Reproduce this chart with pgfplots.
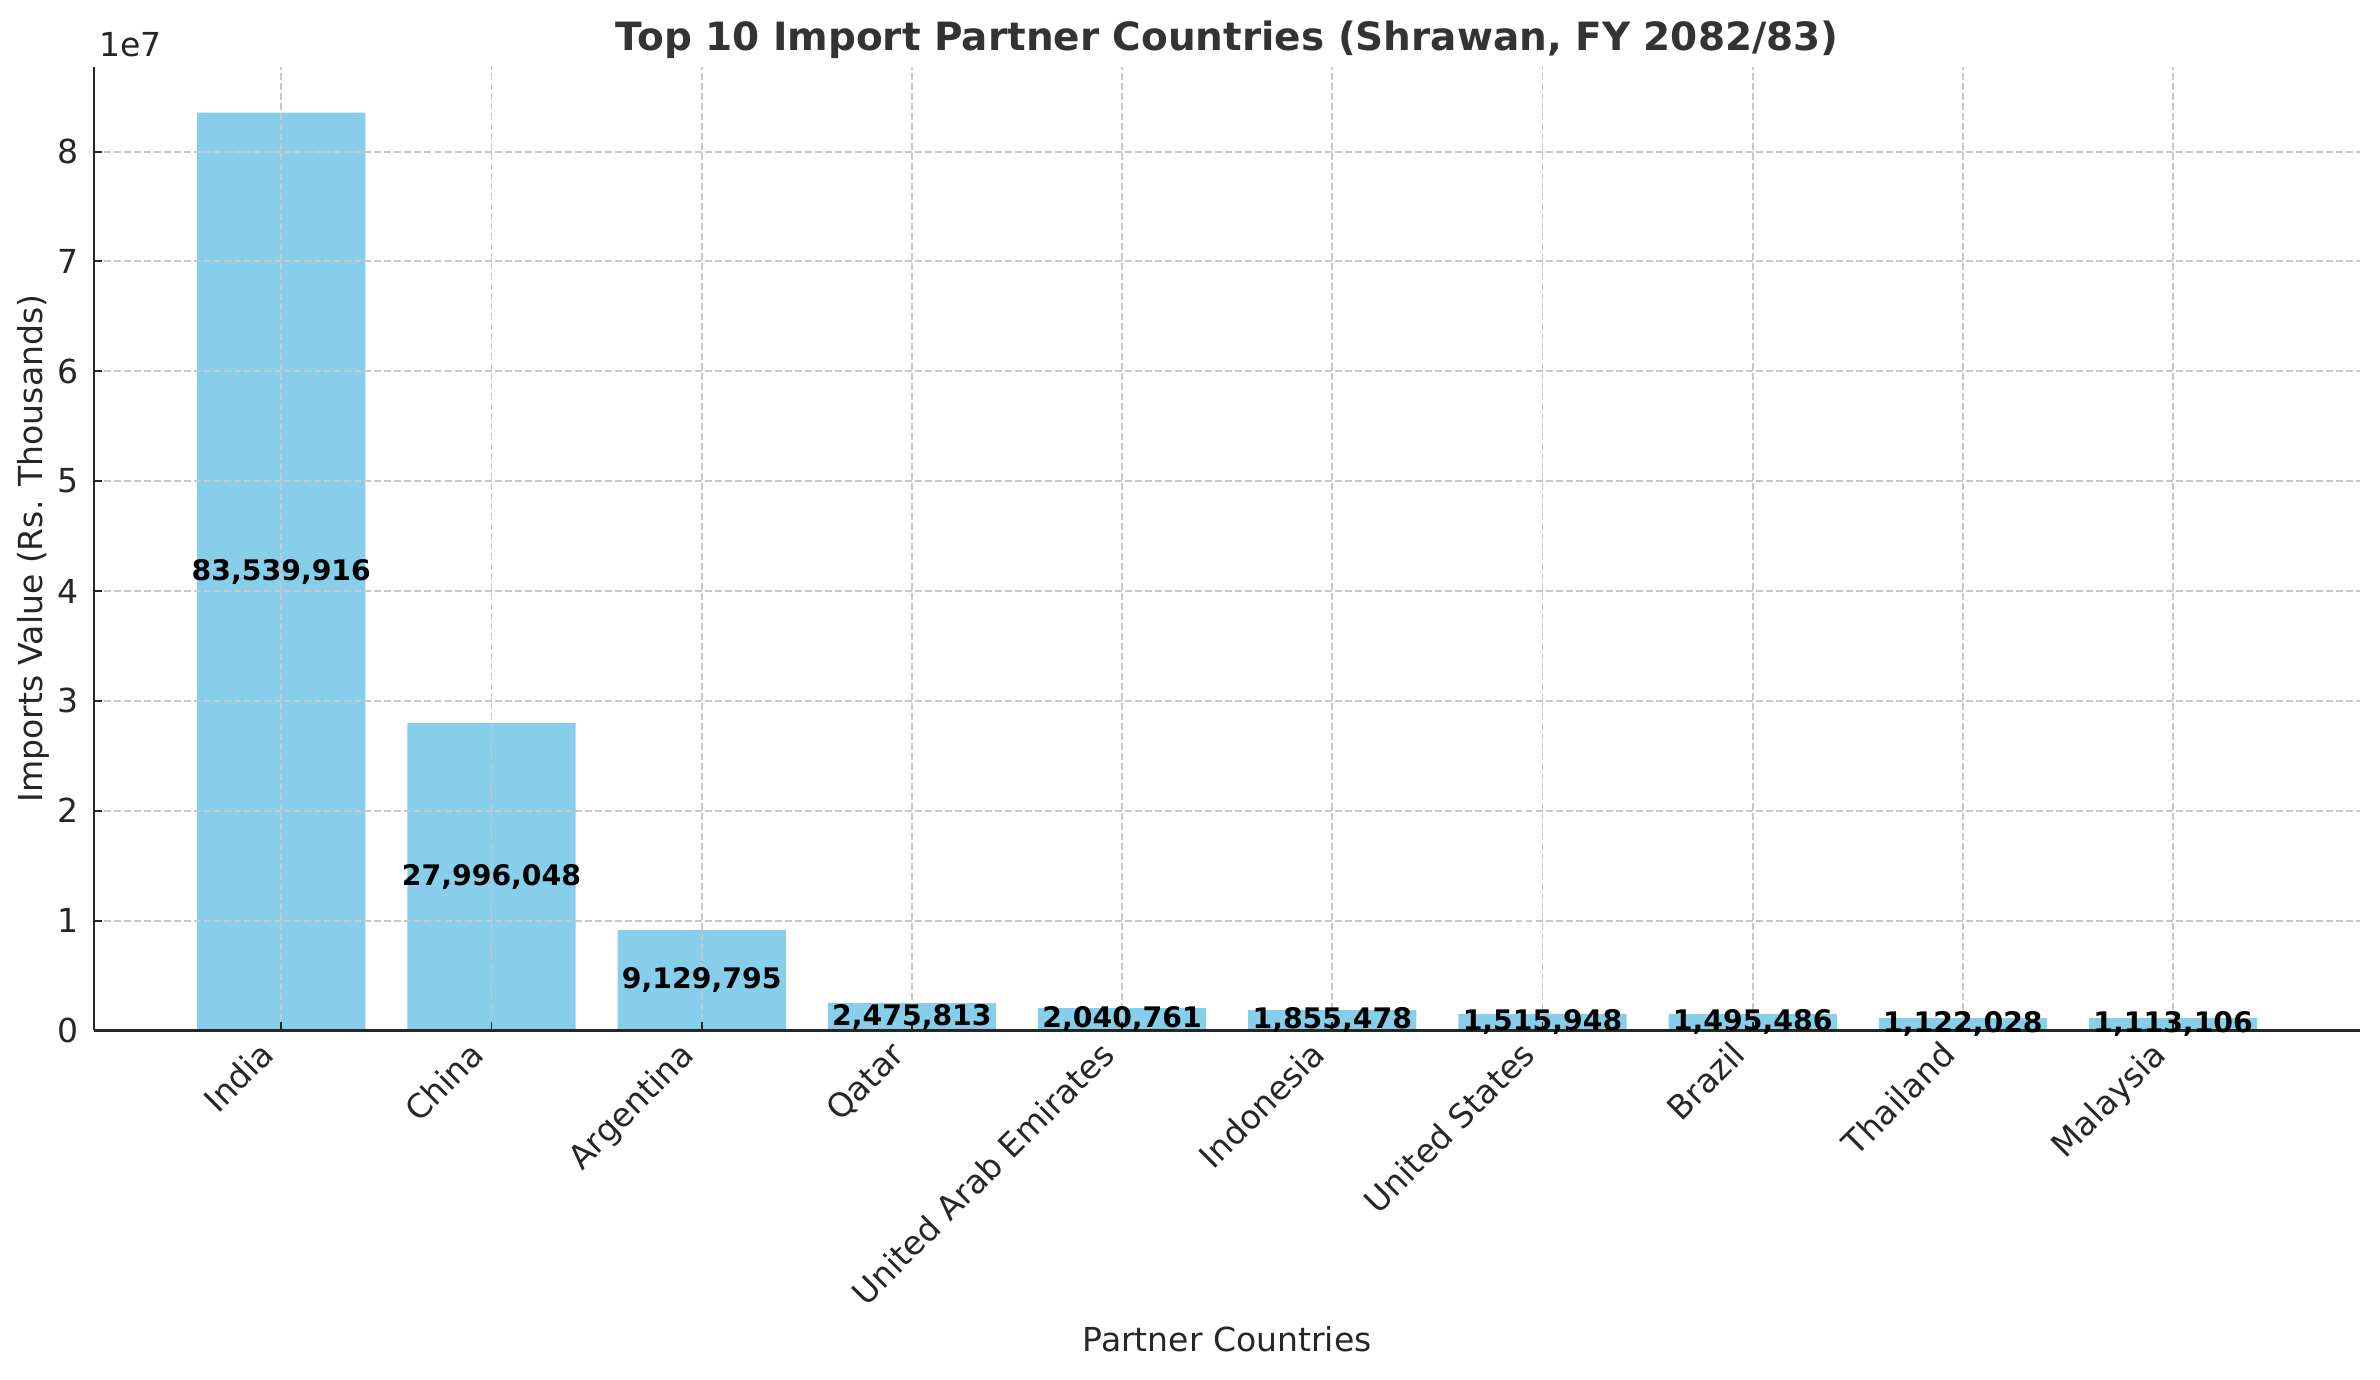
\documentclass[border=0pt]{standalone}
\usepackage{fontspec}
\setmainfont{DejaVu Sans}
\usepackage{pgfplots}
\usepackage{pgfplotstable}
\pgfplotsset{compat=1.18}
\definecolor{skyblue}{HTML}{87CEEB}
\definecolor{gridc}{HTML}{C8C8C8}
\definecolor{titlec}{HTML}{333333}
\definecolor{axc}{HTML}{262626}
\pgfplotstableread{
x v lab
0 83539916 83,539,916
1 27996048 27,996,048
2 9129795 9,129,795
3 2475813 2,475,813
4 2040761 2,040,761
5 1855478 1,855,478
6 1515948 1,515,948
7 1495486 1,495,486
8 1122028 1,122,028
9 1113106 1,113,106
}\imports
\begin{document}
\begin{tikzpicture}
\begin{axis}[
  set layers,
  scale only axis,
  width=959.9pt, height=408.2pt,
  xmin=-0.89, xmax=9.89, ymin=0, ymax=87716912,
  axis x line*=bottom, axis y line*=left,
  axis line style={line width=1pt, color=axc},
  xtick={0,1,2,3,4,5,6,7,8,9},
  xticklabels={India,China,Argentina,Qatar,United Arab Emirates,Indonesia,United States,Brazil,Thailand,Malaysia},
  ytick={0,1e7,2e7,3e7,4e7,5e7,6e7,7e7,8e7},
  yticklabels={0,1,2,3,4,5,6,7,8},
  scaled y ticks=false,
  grid=major,
  major grid style={gridc, line width=0.8pt, dash pattern=on 2.96pt off 1.28pt},
  tick align=inside,
  major tick length=3.5pt,
  tick style={axc, line width=0.8pt},
  xticklabel style={font=\fontsize{14}{17}\selectfont, color=axc, inner sep=0pt, text height=10.6pt, text depth=3.4pt, xshift=-9.9pt, yshift=-3.5pt, rotate=45, anchor=north east},
  yticklabel style={font=\fontsize{14}{17}\selectfont, color=axc, inner sep=0pt, xshift=-6.5pt, anchor=east},
  /pgf/number format/assume math mode=true,
  every axis title shift=0pt,
  title={Top 10 Import Partner Countries (Shrawan, FY 2082/83)},
  title style={font=\bfseries\fontsize{16.5}{19}\selectfont, color=titlec, at={(axis description cs:0.5,1.01715)}, anchor=base},
  xlabel={Partner Countries},
  xlabel style={font=\fontsize{14}{17}\selectfont, color=axc, at={(axis description cs:0.5,-0.3209)}, anchor=center},
  ylabel={Imports Value (Rs. Thousands)},
  ylabel style={font=\fontsize{14}{17}\selectfont, color=axc, at={(axis description cs:-0.0268,0.5)}, anchor=center},
  clip=false,
]
\addplot[ybar, bar width=0.8, fill=skyblue, draw=none, on layer=axis background] table[x=x, y=v] {\imports};
\addplot[draw=none, mark=none, nodes near coords, point meta=explicit symbolic,
  every node near coord/.append style={font=\bfseries\fontsize{12}{14}\selectfont, anchor=center, black}]
  table[x=x, y expr=\thisrow{v}/2, meta=lab] {\imports};
\node[anchor=base west, inner sep=0pt, font=\fontsize{14}{17}\selectfont, color=axc] at (rel axis cs:0.002,1.011) {1e7};
\end{axis}
\pgfresetboundingbox
\path[use as bounding box] (-39.9pt,-148pt) rectangle (968.3pt,436.5pt);
\end{tikzpicture}
\end{document}
